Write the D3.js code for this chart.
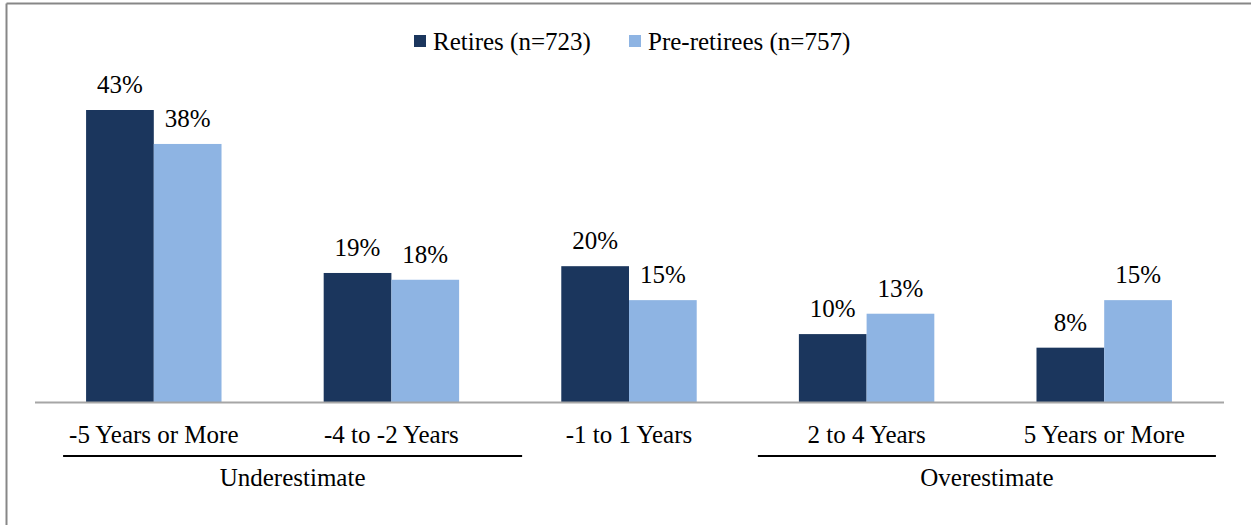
<!DOCTYPE html>
<html>
<head>
<meta charset="utf-8">
<script src="https://cdn.jsdelivr.net/npm/d3@7"></script>
<style>
  html, body { margin: 0; padding: 0; background: #fff; }
  svg { display: block; }
  svg text { font-family: 'Liberation Serif', 'Times New Roman', 'DejaVu Serif', serif; }
</style>
</head>
<body>
<svg id="chart" width="1251" height="525"></svg>
<script>
// Years of difference between expected and actual life expectancy
const categories = ["-5 Years or More", "-4 to -2 Years", "-1 to 1 Years", "2 to 4 Years", "5 Years or More"];
const seriesNames = ["Retires (n=723)", "Pre-retirees (n=757)"];
const retirees = [43, 19, 20, 10, 8];
const preRetirees = [38, 18, 15, 13, 15];
const seriesColors = ["#1b365d", "#8eb4e3"];
const groupLabels = ["Underestimate", "Overestimate"];
const groupMembers = [[0, 1], [3, 4]];

const FS = 25;

const svg = d3.select("#chart");
const W = 1251, H = 525;

// Frame: top and left edges only
svg.append("line").attr("x1", 6.5).attr("x2", W).attr("y1", 3.5).attr("y2", 3.5)
  .attr("stroke", "#878787").attr("stroke-width", 2);
svg.append("line").attr("x1", 6.5).attr("x2", 6.5).attr("y1", 3.5).attr("y2", H)
  .attr("stroke", "#878787").attr("stroke-width", 2);

const plotLeft = 35, plotRight = 1223, baseY = 402;

const x0 = d3.scaleBand().domain(categories).range([plotLeft, plotRight]).paddingInner(0.43).paddingOuter(0.215);
const x1 = d3.scaleBand().domain(seriesNames).range([0, x0.bandwidth()]);
const y = d3.scaleLinear().domain([0, 43]).range([baseY, 110]);

const rows = categories.map((c, i) => ({ cat: c, vals: [retirees[i], preRetirees[i]] }));

const catG = svg.append("g").selectAll("g.cat").data(rows).join("g")
  .attr("class", "cat")
  .attr("transform", d => `translate(${x0(d.cat)},0)`);

catG.selectAll("rect").data(d => d.vals.map((v, j) => ({ v, s: seriesNames[j], j })))
  .join("rect")
  .attr("x", d => x1(d.s))
  .attr("y", d => y(d.v))
  .attr("width", x1.bandwidth())
  .attr("height", d => baseY - y(d.v))
  .attr("fill", d => seriesColors[d.j]);

catG.selectAll("text.val").data(d => d.vals.map((v, j) => ({ v, s: seriesNames[j] })))
  .join("text")
  .attr("class", "val")
  .attr("x", d => x1(d.s) + x1.bandwidth() / 2)
  .attr("y", d => y(d.v) - 17)
  .attr("text-anchor", "middle")
  .attr("font-size", FS)
  .attr("fill", "#000")
  .text(d => d.v + "%");

// Baseline axis
svg.append("line").attr("x1", plotLeft).attr("x2", plotRight + 1).attr("y1", baseY + 0.5).attr("y2", baseY + 0.5)
  .attr("stroke", "#a6a6a6").attr("stroke-width", 2);

const xAxis = d3.axisBottom(x0).tickSize(0).tickPadding(0);
const axG = svg.append("g").attr("transform", `translate(0,${baseY})`).call(xAxis)
  .attr("font-family", null).attr("font-size", FS);
axG.select(".domain").remove();
axG.selectAll("text")
  .attr("y", 41)
  .attr("dy", 0)
  .attr("fill", "#000");

// Group brackets below category labels (extension beyond the outer bars on each side)
const bracketExt = [[23, 63], [41, 44]];
groupLabels.forEach((label, k) => {
  const [a, b] = groupMembers[k];
  const xa = x0(categories[a]) - bracketExt[k][0];
  const xb = x0(categories[b]) + x0.bandwidth() + bracketExt[k][1];
  svg.append("line")
    .attr("x1", xa).attr("x2", xb)
    .attr("y1", 456).attr("y2", 456)
    .attr("stroke", "#000").attr("stroke-width", 2);
  svg.append("text")
    .attr("x", (xa + xb) / 2).attr("y", 486)
    .attr("text-anchor", "middle")
    .attr("font-size", FS)
    .attr("fill", "#000")
    .text(label);
});

// Legend
const legendX = [414, 629];
seriesNames.forEach((s, j) => {
  svg.append("rect").attr("x", legendX[j]).attr("y", 35).attr("width", 12).attr("height", 12)
    .attr("fill", seriesColors[j]);
  svg.append("text").attr("x", legendX[j] + 19).attr("y", 50)
    .attr("font-size", FS)
    .attr("fill", "#000")
    .text(s);
});
</script>
</body>
</html>
